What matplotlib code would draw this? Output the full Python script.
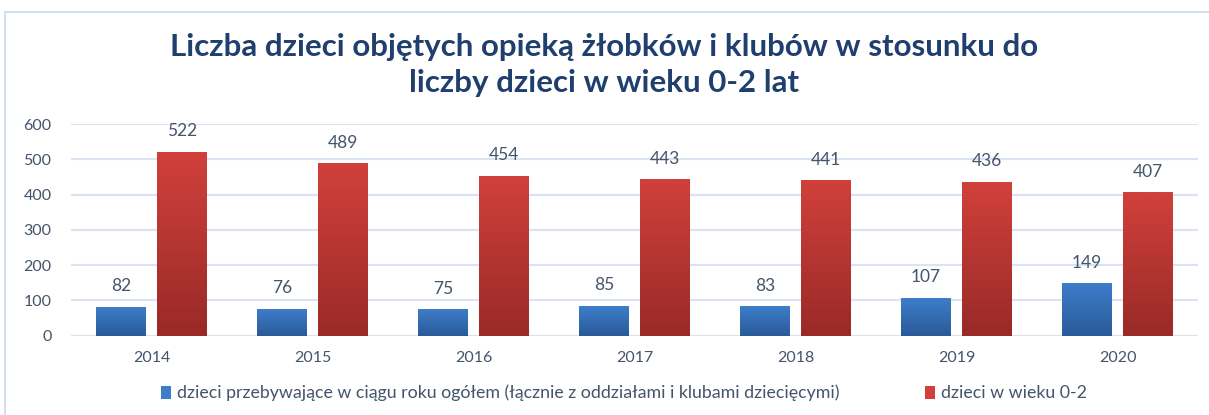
import numpy as np
import matplotlib
matplotlib.use("Agg")
import matplotlib.pyplot as plt
import matplotlib.patches as mpatches
from matplotlib.colors import LinearSegmentedColormap

# ── Data ──────────────────────────────────────────────────────────────────────
years = ["2014", "2015", "2016", "2017", "2018", "2019", "2020"]
dzieci_zlobki = [82, 76, 75, 85, 83, 107, 149]
dzieci_0_2 = [522, 489, 454, 443, 441, 436, 407]
labels = [
    "dzieci przebywające w ciągu roku ogółem (łącznie z oddziałami i klubami dziecięcymi)",
    "dzieci w wieku 0-2",
]
title = "Liczba dzieci objętych opieką żłobków i klubów w stosunku do\nliczby dzieci w wieku 0-2 lat"

# ── Style ─────────────────────────────────────────────────────────────────────
FONT = ["Lato", "DejaVu Sans"]
TXT = "#44546A"
BLUE = ("#3D7DCA", "#2A5A98")
RED = ("#D1403B", "#992A27")
GRID = "#D9E3F3"

fig = plt.figure(figsize=(12.09, 4.15), dpi=100)
ax = fig.add_axes([0.0587, 0.191, 0.9323, 0.510])

x = np.arange(len(years))
w = 0.31
off = 0.19

def grad_bars(ax, xs, vals, cols, lbl):
    bars = ax.bar(xs, vals, w, color=cols[0], label=lbl, zorder=2,
                  edgecolor="none")
    cmap = LinearSegmentedColormap.from_list("g", [cols[1], cols[0]])
    grad = np.linspace(0, 1, 100).reshape(-1, 1)
    for b in bars:
        im = ax.imshow(grad, extent=[b.get_x(), b.get_x() + b.get_width(),
                                     0, b.get_height()],
                       origin="lower", aspect="auto", cmap=cmap, zorder=3)
        im.set_clip_path(b)
    return bars

b1 = grad_bars(ax, x - off, dzieci_zlobki, BLUE, labels[0])
b2 = grad_bars(ax, x + off, dzieci_0_2, RED, labels[1])

for bars, vals in [(b1, dzieci_zlobki), (b2, dzieci_0_2)]:
    for r, v in zip(bars, vals):
        ax.annotate(str(v), (r.get_x() + r.get_width() / 2, v),
                    xytext=(0, 9), textcoords="offset points",
                    ha="center", va="bottom", fontsize=12.5, color=TXT,
                    family=FONT)

ax.set_xlim(-0.5, len(years) - 0.5)
ax.set_ylim(0, 600)
ax.set_yticks(range(0, 601, 100))
ax.set_xticks(x)
ax.set_xticklabels(years)
ax.tick_params(length=0, labelsize=11.5, labelcolor=TXT)
ax.tick_params(axis="y", pad=14)
ax.tick_params(axis="x", pad=11)
for t in ax.get_xticklabels() + ax.get_yticklabels():
    t.set_family(FONT)
ax.grid(axis="y", color=GRID, linewidth=1.5, zorder=0)
for s in ax.spines.values():
    s.set_visible(False)
ax.set_axisbelow(True)

fig.text(0.5, 0.843, title, ha="center", va="center", fontsize=22.5,
         fontweight="bold", color="#1F3F6E", family=FONT, linespacing=1.32)

handles = [mpatches.Patch(facecolor=BLUE[0], label=labels[0]),
           mpatches.Patch(facecolor=RED[0], label=labels[1])]
leg = fig.legend(handles=handles, loc="center", bbox_to_anchor=(0.516, 0.053),
                 ncol=2, frameon=False, handlelength=0.55,
                 handleheight=0.75, handletextpad=0.35, columnspacing=4.8,
                 prop={"family": FONT, "size": 12.8})
for t in leg.get_texts():
    t.set_color(TXT)

# light chart border
fig.add_artist(plt.Line2D([0.004, 0.004], [0.0, 0.971], color="#C9DAF0",
                          linewidth=1.2, transform=fig.transFigure))
fig.add_artist(plt.Line2D([0.004, 1.0], [0.971, 0.971], color="#C9DAF0",
                          linewidth=1.2, transform=fig.transFigure))

fig.savefig("out.png", dpi=100)
